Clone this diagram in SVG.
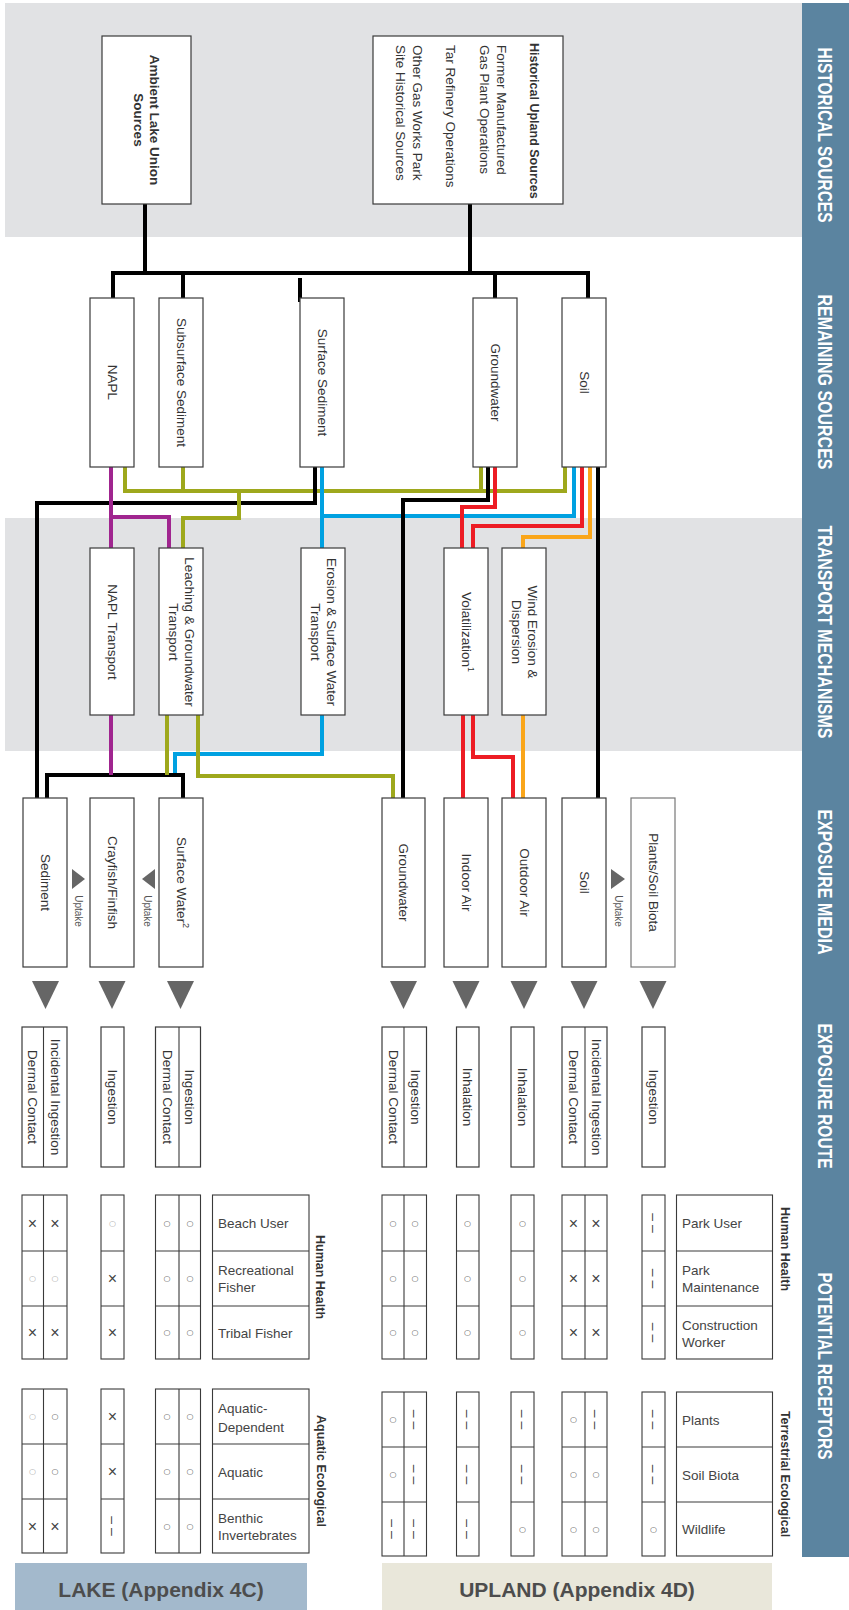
<svg xmlns="http://www.w3.org/2000/svg" width="849" height="1610" viewBox="0 0 849 1610">
<style>
text{font-family:"Liberation Sans",Arial,sans-serif;fill:#333}
.band{fill:#e1e2e4}
.box{fill:#fff;stroke:#3a3a3a;stroke-width:1.2}
.cell{fill:#fff;stroke:#3a3a3a;stroke-width:1.1}
.div{stroke:#3a3a3a;stroke-width:1.1;fill:none}
.r{font-size:13.5px;text-anchor:middle;dominant-baseline:central}
.rs{font-size:13.5px;text-anchor:start;dominant-baseline:central}
.bd{font-weight:bold}
.bar{font-size:21px;font-weight:bold;fill:#fff;text-anchor:middle;dominant-baseline:central}
.lbl{font-size:13.5px;fill:#444}
.grp{font-size:12.5px;font-weight:bold;fill:#333;dominant-baseline:central}
.x{font-size:16px;fill:#444;text-anchor:middle;dominant-baseline:central}
.o{font-family:"DejaVu Sans",sans-serif;font-size:8px;fill:#555;text-anchor:middle;dominant-baseline:central}
.ol{fill:#aaa}
.d{font-size:14px;fill:#444;text-anchor:middle;dominant-baseline:central}
.tri{fill:#666}
.up{font-size:10px;fill:#555;text-anchor:middle;dominant-baseline:central}
.foot{font-size:21px;font-weight:bold;fill:#4d4d4d;text-anchor:middle}
.sup{font-size:9px}
</style>

<!-- background bands -->
<rect class="band" x="5" y="3" width="797" height="234"/>
<rect class="band" x="5" y="518" width="797" height="233"/>

<!-- right section bar -->
<g id="section-bar">
<rect x="802" y="3" width="47" height="1554" fill="#5b84a0"/>
<text class="bar" transform="translate(825,135) rotate(90)" textLength="175" lengthAdjust="spacingAndGlyphs">HISTORICAL SOURCES</text>
<text class="bar" transform="translate(825,382) rotate(90)" textLength="175" lengthAdjust="spacingAndGlyphs">REMAINING SOURCES</text>
<text class="bar" transform="translate(825,632) rotate(90)" textLength="213" lengthAdjust="spacingAndGlyphs">TRANSPORT MECHANISMS</text>
<text class="bar" transform="translate(825,882) rotate(90)" textLength="145" lengthAdjust="spacingAndGlyphs">EXPOSURE MEDIA</text>
<text class="bar" transform="translate(825,1096) rotate(90)" textLength="145" lengthAdjust="spacingAndGlyphs">EXPOSURE ROUTE</text>
<text class="bar" transform="translate(825,1366) rotate(90)" textLength="187" lengthAdjust="spacingAndGlyphs">POTENTIAL RECEPTORS</text>
</g>

<!-- connectors -->
<g id="connectors" fill="none" stroke-width="4">
<path stroke="#000" d="M145,204V273 M470,204V273 M113,298V273H588V298 M183,273V298 M495,273V298 M300,278V302"/>
<path stroke="#9ea81c" d="M125,466V491H565V466 M183,466V491 M481,466V491"/>
<path stroke="#00a1e1" d="M322,466V548 M574,466V516H322 M322,715V754H175V775"/>
<path stroke="#000" d="M315,466V503H37V799 M488,466V500H403V799 M598,466V799 M47,799V775H183V799"/>
<path stroke="#9ea81c" d="M239,491V518H183V548 M167,715V775 M198,715V776H393V799"/>
<path stroke="#a0258f" d="M111,466V548 M111,517H169V548 M111,715V775"/>
<path stroke="#ed1c24" d="M495,466V507H462V548 M582,466V526H473V548 M463,715V799 M473,715V757H513V799"/>
<path stroke="#faa61a" d="M590,466V537H523V548 M523,715V799"/>
<g stroke="none" class="tri">
<polygon points="72,869 72,889 85,879"/>
<polygon points="155,869 155,889 142,879"/>
<polygon points="611,869 611,889 625,879"/>
<polygon points="32,981 59,981 45.5,1009"/>
<polygon points="98.5,981 125.5,981 112,1009"/>
<polygon points="167,981 194,981 180.5,1009"/>
<polygon points="390,981 417,981 403.5,1009"/>
<polygon points="452.5,981 479.5,981 466,1009"/>
<polygon points="510.5,981 537.5,981 524,1009"/>
<polygon points="570.5,981 597.5,981 584,1009"/>
<polygon points="639.5,981 666.5,981 653,1009"/>
</g>
<text class="up" transform="translate(78,911) rotate(90)">Uptake</text>
<text class="up" transform="translate(147,911) rotate(90)">Uptake</text>
<text class="up" transform="translate(618,911) rotate(90)">Uptake</text>
</g>

<!-- historical sources -->
<g id="hs-ambient">
<rect class="box" x="102" y="36" width="89" height="168"/>
<text class="r bd" font-size="13" transform="translate(154,120) rotate(90)">Ambient Lake Union</text>
<text class="r bd" font-size="13" transform="translate(138,120) rotate(90)">Sources</text>
</g>
<g id="hs-upland">
<rect class="box" x="373" y="36" width="190" height="168"/>
<text class="rs bd" style="font-size:12.5px" transform="translate(534,43) rotate(90)">Historical Upland Sources</text>
<text class="rs" transform="translate(501,45) rotate(90)">Former Manufactured</text>
<text class="rs" transform="translate(484,45) rotate(90)">Gas Plant Operations</text>
<text class="rs" transform="translate(450,45) rotate(90)">Tar Refinery Operations</text>
<text class="rs" transform="translate(417,45) rotate(90)">Other Gas Works Park</text>
<text class="rs" transform="translate(400,45) rotate(90)">Site Historical Sources</text>
</g>

<!-- remaining sources -->
<g id="rs-napl"><rect class="box" x="90" y="298" width="44" height="169"/><text class="r" transform="translate(112,382.5) rotate(90)">NAPL</text></g>
<g id="rs-subsurface-sediment"><rect class="box" x="159" y="298" width="44" height="169"/><text class="r" transform="translate(181,382.5) rotate(90)">Subsurface Sediment</text></g>
<g id="rs-surface-sediment"><rect class="box" x="300" y="298" width="44" height="169"/><text class="r" transform="translate(322,382.5) rotate(90)">Surface Sediment</text></g>
<g id="rs-groundwater"><rect class="box" x="473" y="298" width="44" height="169"/><text class="r" transform="translate(495,382.5) rotate(90)">Groundwater</text></g>
<g id="rs-soil"><rect class="box" x="562" y="298" width="44" height="169"/><text class="r" transform="translate(584,382.5) rotate(90)">Soil</text></g>

<!-- transport mechanisms -->
<g id="tm-napl"><rect class="box" x="90" y="548" width="44" height="167"/><text class="r" transform="translate(112,632) rotate(90)">NAPL Transport</text></g>
<g id="tm-leaching"><rect class="box" x="159" y="548" width="44" height="167"/><text class="r" transform="translate(189,632) rotate(90)">Leaching &amp; Groundwater</text><text class="r" transform="translate(173,632) rotate(90)">Transport</text></g>
<g id="tm-erosion"><rect class="box" x="301" y="548" width="44" height="167"/><text class="r" transform="translate(331,632) rotate(90)">Erosion &amp; Surface Water</text><text class="r" transform="translate(315,632) rotate(90)">Transport</text></g>
<g id="tm-volatilization"><rect class="box" x="444" y="548" width="44" height="167"/><text class="r" transform="translate(466,632) rotate(90)">Volatilization<tspan class="sup" baseline-shift="super">1</tspan></text></g>
<g id="tm-wind"><rect class="box" x="502" y="548" width="44" height="167"/><text class="r" transform="translate(532,632) rotate(90)">Wind Erosion &amp;</text><text class="r" transform="translate(516,632) rotate(90)">Dispersion</text></g>

<!-- exposure media -->
<g id="em-sediment"><rect class="box" x="23" y="798" width="44" height="169"/><text class="r" transform="translate(45,882.5) rotate(90)">Sediment</text></g>
<g id="em-crayfish"><rect class="box" x="90" y="798" width="44" height="169"/><text class="r" transform="translate(112,882.5) rotate(90)">Crayfish/Finfish</text></g>
<g id="em-surface-water"><rect class="box" x="159" y="798" width="44" height="169"/><text class="r" transform="translate(181,882.5) rotate(90)">Surface Water<tspan class="sup" baseline-shift="super">2</tspan></text></g>
<g id="em-groundwater"><rect class="box" x="382" y="798" width="43" height="169"/><text class="r" transform="translate(403.5,882.5) rotate(90)">Groundwater</text></g>
<g id="em-indoor-air"><rect class="box" x="444" y="798" width="44" height="169"/><text class="r" transform="translate(466,882.5) rotate(90)">Indoor Air</text></g>
<g id="em-outdoor-air"><rect class="box" x="502" y="798" width="44" height="169"/><text class="r" transform="translate(524,882.5) rotate(90)">Outdoor Air</text></g>
<g id="em-soil"><rect class="box" x="562" y="798" width="44" height="169"/><text class="r" transform="translate(584,882.5) rotate(90)">Soil</text></g>
<g id="em-plants"><rect class="box" x="631" y="798" width="44" height="169" style="stroke:#777"/><text class="r" transform="translate(653,882.5) rotate(90)">Plants/Soil Biota</text></g>

<!-- exposure routes -->
<g id="er-sediment"><rect class="box" x="22" y="1027" width="45" height="140"/><path class="div" d="M43.5,1027V1167"/><text class="r" transform="translate(55,1097) rotate(90)">Incidental Ingestion</text><text class="r" transform="translate(32.5,1097) rotate(90)">Dermal Contact</text></g>
<g id="er-crayfish"><rect class="box" x="101" y="1027" width="23" height="140"/><text class="r" transform="translate(112.5,1097) rotate(90)">Ingestion</text></g>
<g id="er-surface-water"><rect class="box" x="155.5" y="1027" width="45" height="140"/><path class="div" d="M179,1027V1167"/><text class="r" transform="translate(189.5,1097) rotate(90)">Ingestion</text><text class="r" transform="translate(167,1097) rotate(90)">Dermal Contact</text></g>
<g id="er-groundwater"><rect class="box" x="382" y="1027" width="44.5" height="140"/><path class="div" d="M404,1027V1167"/><text class="r" transform="translate(415,1097) rotate(90)">Ingestion</text><text class="r" transform="translate(393,1097) rotate(90)">Dermal Contact</text></g>
<g id="er-indoor-air"><rect class="box" x="456.5" y="1027" width="22.5" height="140"/><text class="r" transform="translate(467.5,1097) rotate(90)">Inhalation</text></g>
<g id="er-outdoor-air"><rect class="box" x="511" y="1027" width="23" height="140"/><text class="r" transform="translate(522.5,1097) rotate(90)">Inhalation</text></g>
<g id="er-soil"><rect class="box" x="562" y="1027" width="45" height="140"/><path class="div" d="M585,1027V1167"/><text class="r" transform="translate(596,1097) rotate(90)">Incidental Ingestion</text><text class="r" transform="translate(573.5,1097) rotate(90)">Dermal Contact</text></g>
<g id="er-plants"><rect class="box" x="642" y="1027" width="23" height="140"/><text class="r" transform="translate(653.5,1097) rotate(90)">Ingestion</text></g>

<!-- receptors: lake human health -->
<g id="rc-lake-human-health">
<rect class="cell" x="22" y="1195" width="45" height="164"/>
<rect class="cell" x="101" y="1195" width="23" height="164"/>
<rect class="cell" x="155.5" y="1195" width="45" height="164"/>
<rect class="cell" x="212.5" y="1195" width="96.5" height="164"/>
<path class="div" d="M43.5,1195V1359 M179,1195V1359 M22,1251H67 M101,1251H124 M155.5,1251H200.5 M212.5,1251H309 M22,1306H67 M101,1306H124 M155.5,1306H200.5 M212.5,1306H309"/>
<text class="lbl" x="218" y="1228">Beach User</text>
<text class="lbl" x="218" y="1275">Recreational</text>
<text class="lbl" x="218" y="1292">Fisher</text>
<text class="lbl" x="218" y="1338">Tribal Fisher</text>
<text class="grp" text-anchor="middle" transform="translate(320,1277) rotate(90)">Human Health</text>
<text class="x" x="32.5" y="1223">×</text><text class="x" x="55" y="1223">×</text>
<text class="o ol" x="112.5" y="1223">○</text>
<text class="o" x="167" y="1223">○</text><text class="o" x="190" y="1223">○</text>
<text class="o ol" x="32.5" y="1278.5">○</text><text class="o ol" x="55" y="1278.5">○</text>
<text class="x" x="112.5" y="1278.5">×</text>
<text class="o" x="167" y="1278.5">○</text><text class="o" x="190" y="1278.5">○</text>
<text class="x" x="32.5" y="1332.5">×</text><text class="x" x="55" y="1332.5">×</text>
<text class="x" x="112.5" y="1332.5">×</text>
<text class="o" x="167" y="1332.5">○</text><text class="o" x="190" y="1332.5">○</text>
</g>

<!-- receptors: lake aquatic ecological -->
<g id="rc-lake-ecological">
<rect class="cell" x="22" y="1389" width="45" height="164"/>
<rect class="cell" x="101" y="1389" width="23" height="164"/>
<rect class="cell" x="155.5" y="1389" width="45" height="164"/>
<rect class="cell" x="212.5" y="1389" width="96.5" height="164"/>
<path class="div" d="M43.5,1389V1553 M179,1389V1553 M22,1444H67 M101,1444H124 M155.5,1444H200.5 M212.5,1444H309 M22,1499H67 M101,1499H124 M155.5,1499H200.5 M212.5,1499H309"/>
<text class="lbl" x="218" y="1413">Aquatic-</text>
<text class="lbl" x="218" y="1432">Dependent</text>
<text class="lbl" x="218" y="1477">Aquatic</text>
<text class="lbl" x="218" y="1523">Benthic</text>
<text class="lbl" x="218" y="1540">Invertebrates</text>
<text class="grp" text-anchor="middle" transform="translate(321,1471) rotate(90)">Aquatic Ecological</text>
<text class="o ol" x="32.5" y="1416.5">○</text><text class="o" x="55" y="1416.5">○</text>
<text class="x" x="112.5" y="1416.5">×</text>
<text class="o" x="167" y="1416.5">○</text><text class="o" x="190" y="1416.5">○</text>
<text class="o ol" x="32.5" y="1471.5">○</text><text class="o" x="55" y="1471.5">○</text>
<text class="x" x="112.5" y="1471.5">×</text>
<text class="o" x="167" y="1471.5">○</text><text class="o" x="190" y="1471.5">○</text>
<text class="x" x="32.5" y="1526">×</text><text class="x" x="55" y="1526">×</text>
<text class="d" transform="translate(112.5,1526) rotate(90)">– –</text>
<text class="o" x="167" y="1526">○</text><text class="o" x="190" y="1526">○</text>
</g>

<!-- receptors: upland human health -->
<g id="rc-upland-human-health">
<rect class="cell" x="382" y="1195" width="44.5" height="164"/>
<rect class="cell" x="456.5" y="1195" width="22.5" height="164"/>
<rect class="cell" x="511" y="1195" width="23" height="164"/>
<rect class="cell" x="562" y="1195" width="45" height="164"/>
<rect class="cell" x="642" y="1195" width="23" height="164"/>
<rect class="cell" x="676.5" y="1195" width="96" height="164"/>
<path class="div" d="M404,1195V1359 M585,1195V1359 M382,1251H426.5 M456.5,1251H479 M511,1251H534 M562,1251H607 M642,1251H665 M676.5,1251H772.5 M382,1306H426.5 M456.5,1306H479 M511,1306H534 M562,1306H607 M642,1306H665 M676.5,1306H772.5"/>
<text class="lbl" x="682" y="1228">Park User</text>
<text class="lbl" x="682" y="1275">Park</text>
<text class="lbl" x="682" y="1292">Maintenance</text>
<text class="lbl" x="682" y="1330">Construction</text>
<text class="lbl" x="682" y="1347">Worker</text>
<text class="grp" text-anchor="start" transform="translate(785,1207) rotate(90)">Human Health</text>
<text class="o" x="393" y="1223">○</text><text class="o" x="415" y="1223">○</text><text class="o" x="467.5" y="1223">○</text><text class="o" x="522.5" y="1223">○</text>
<text class="x" x="573.5" y="1223">×</text><text class="x" x="596" y="1223">×</text>
<text class="d" transform="translate(653.5,1223) rotate(90)">– –</text>
<text class="o" x="393" y="1278.5">○</text><text class="o" x="415" y="1278.5">○</text><text class="o" x="467.5" y="1278.5">○</text><text class="o" x="522.5" y="1278.5">○</text>
<text class="x" x="573.5" y="1278.5">×</text><text class="x" x="596" y="1278.5">×</text>
<text class="d" transform="translate(653.5,1278.5) rotate(90)">– –</text>
<text class="o" x="393" y="1332.5">○</text><text class="o" x="415" y="1332.5">○</text><text class="o" x="467.5" y="1332.5">○</text><text class="o" x="522.5" y="1332.5">○</text>
<text class="x" x="573.5" y="1332.5">×</text><text class="x" x="596" y="1332.5">×</text>
<text class="d" transform="translate(653.5,1332.5) rotate(90)">– –</text>
</g>

<!-- receptors: upland terrestrial ecological -->
<g id="rc-upland-ecological">
<rect class="cell" x="382" y="1392" width="44.5" height="164"/>
<rect class="cell" x="456.5" y="1392" width="22.5" height="164"/>
<rect class="cell" x="511" y="1392" width="23" height="164"/>
<rect class="cell" x="562" y="1392" width="45" height="164"/>
<rect class="cell" x="642" y="1392" width="23" height="164"/>
<rect class="cell" x="676.5" y="1392" width="96" height="164"/>
<path class="div" d="M404,1392V1556 M585,1392V1556 M382,1447H426.5 M456.5,1447H479 M511,1447H534 M562,1447H607 M642,1447H665 M676.5,1447H772.5 M382,1502H426.5 M456.5,1502H479 M511,1502H534 M562,1502H607 M642,1502H665 M676.5,1502H772.5"/>
<text class="lbl" x="682" y="1425">Plants</text>
<text class="lbl" x="682" y="1480">Soil Biota</text>
<text class="lbl" x="682" y="1534">Wildlife</text>
<text class="grp" text-anchor="middle" transform="translate(785,1474) rotate(90)">Terrestrial Ecological</text>
<text class="o" x="393" y="1419.5">○</text><text class="d" transform="translate(415,1419.5) rotate(90)">– –</text>
<text class="d" transform="translate(467.5,1419.5) rotate(90)">– –</text>
<text class="d" transform="translate(522.5,1419.5) rotate(90)">– –</text>
<text class="o" x="573.5" y="1419.5">○</text><text class="d" transform="translate(596,1419.5) rotate(90)">– –</text>
<text class="d" transform="translate(653.5,1419.5) rotate(90)">– –</text>
<text class="o" x="393" y="1474.5">○</text><text class="d" transform="translate(415,1474.5) rotate(90)">– –</text>
<text class="d" transform="translate(467.5,1474.5) rotate(90)">– –</text>
<text class="d" transform="translate(522.5,1474.5) rotate(90)">– –</text>
<text class="o" x="573.5" y="1474.5">○</text><text class="o" x="596" y="1474.5">○</text>
<text class="d" transform="translate(653.5,1474.5) rotate(90)">– –</text>
<text class="d" transform="translate(393,1529) rotate(90)">– –</text><text class="d" transform="translate(415,1529) rotate(90)">– –</text>
<text class="d" transform="translate(467.5,1529) rotate(90)">– –</text>
<text class="o" x="522.5" y="1529">○</text>
<text class="o" x="573.5" y="1529">○</text><text class="o" x="596" y="1529">○</text>
<text class="o" x="653.5" y="1529">○</text>
</g>

<!-- footer labels -->
<g id="lake-label"><rect x="15" y="1563" width="292" height="47" fill="#a3b9cc"/><text class="foot" x="161" y="1597">LAKE (Appendix 4C)</text></g>
<g id="upland-label"><rect x="382" y="1563" width="390" height="47" fill="#e9e7da"/><text class="foot" x="577" y="1597">UPLAND (Appendix 4D)</text></g>
</svg>
